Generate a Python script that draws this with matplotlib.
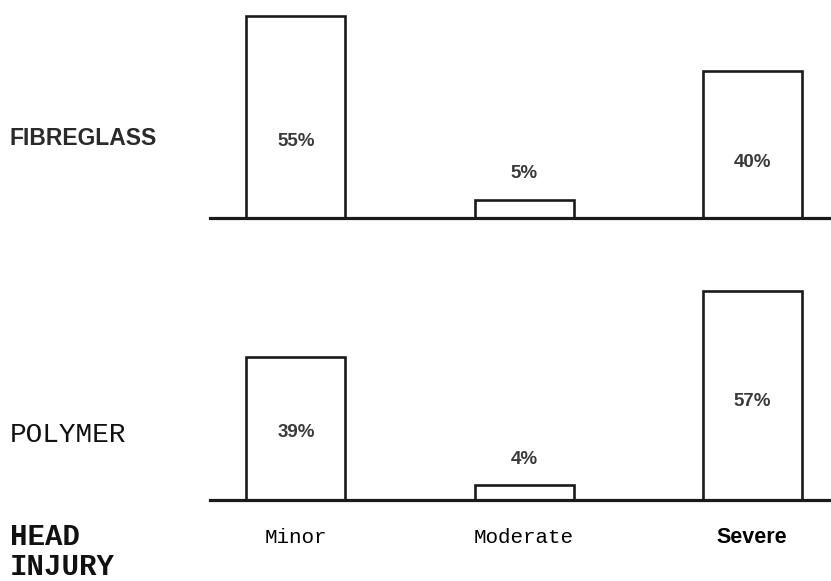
import matplotlib.pyplot as plt

severity = ['Minor', 'Moderate', 'Severe']
fibreglass = [55, 5, 40]
polymer = [39, 4, 57]
materials = ['FIBREGLASS', 'POLYMER']

SANS = 'Liberation Sans'
MONO = 'Liberation Mono'

fig = plt.figure(figsize=(8.31, 5.81), dpi=100)

# two panels sharing the same percentage scale
ax_top = fig.add_axes([0.2527, 0.6248, 0.7473, 0.3752])
ax_bot = fig.add_axes([0.2527, 0.1394, 0.7473, 0.3752])

x = range(len(severity))


def draw_panel(ax, values, label_frac):
    bars = ax.bar(x, values, width=0.434, color='white', edgecolor='#1a1a1a',
                  linewidth=1.9)
    for b in bars:
        b.set_clip_on(False)
    ax.axhline(0, color='#1a1a1a', linewidth=2.3, clip_on=False)
    for xi, v in zip(x, values):
        if v < 10:
            ty = v + 7
        else:
            ty = v * label_frac
        ax.text(xi, ty, f'{v}%', ha='center', va='center', fontsize=13.5,
                fontweight='bold', family=SANS, color='#3a3a3a')
    ax.set_xlim(-0.377, 2.346)
    ax.set_ylim(0, 59.4)
    ax.axis('off')


draw_panel(ax_top, fibreglass, 0.38)
draw_panel(ax_bot, polymer, 0.47)

# severity labels under the lower panel
trans = ax_bot.get_xaxis_transform()
ax_bot.text(0, -0.174, severity[0], ha='center', va='center', fontsize=15,
            family=MONO, transform=trans, clip_on=False)
ax_bot.text(1, -0.174, severity[1], ha='center', va='center', fontsize=15,
            family=MONO, transform=trans, clip_on=False)
ax_bot.text(2, -0.174, severity[2], ha='center', va='center', fontsize=15.5,
            family=SANS, fontweight='heavy', transform=trans, clip_on=False)

# row labels
fig.text(0.012, 0.761, materials[0], ha='left', va='center', fontsize=16.5,
         family=SANS, fontweight='bold', color='#2a2a2a')
fig.text(0.012, 0.251, materials[1], ha='left', va='center', fontsize=20,
         family=MONO, color='#111111')
fig.text(0.012, 0.050, 'HEAD\nINJURY', ha='left', va='center', fontsize=21,
         family=MONO, fontweight='bold', linespacing=1.1, color='#111111')

fig.savefig('out.png', dpi=100, facecolor='white')
